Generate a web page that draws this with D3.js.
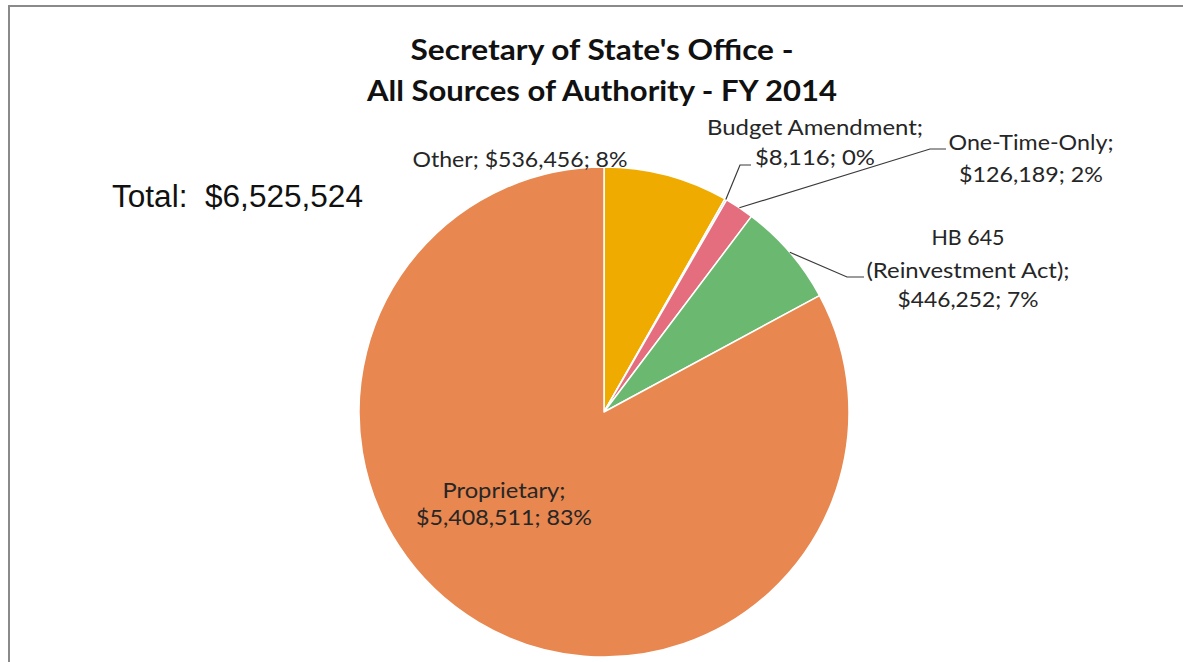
<!DOCTYPE html>
<html>
<head>
<meta charset="utf-8">
<script src="https://cdn.jsdelivr.net/npm/d3@7"></script>
<style>
  html, body { margin: 0; padding: 0; background: #fff; }
  svg { display: block; }
</style>
</head>
<body>
<svg id="chart" width="1183" height="662"></svg>
<script>
// ---- Data -------------------------------------------------------------
const categories = ["Other", "Budget Amendment", "One-Time-Only", "HB 645 (Reinvestment Act)", "Proprietary"];
const nameLines  = [["Other"], ["Budget Amendment"], ["One-Time-Only"], ["HB 645", "(Reinvestment Act)"], ["Proprietary"]];
const values     = [536456, 8116, 126189, 446252, 5408511];
const sliceColors = ["#F0AB00", "#A9C4E2", "#E56E7E", "#6BB870", "#E8874F"];
const titleLines = ["Secretary of State's Office -", "All Sources of Authority - FY 2014"];

// ---- Layout -----------------------------------------------------------
const W = 1183, H = 662;
const cx = 604, cy = 412, R = 245;
const labelFont = "Lato, 'Open Sans', sans-serif";

// label placement per slice (same order as categories)
const labelLayout = [
  { x: 520, y: [167], w: [215], oneLine: true, leader: null },
  { x: 815, y: [135, 165], w: [216, 120], leader: [[740, 165], [751, 165]] },
  { x: 1031, y: [150, 182], w: [165, 144], leader: [[930, 149], [946, 149]] },
  { x: 968, y: [245, 278, 307], w: [73, 203, 141], leader: [[847, 277], [864, 277]] },
  { x: 504, y: [498, 525], w: [123, 176], leader: null }
];

const svg = d3.select("#chart");

// frame edges
svg.append("line").attr("x1", 8).attr("x2", W).attr("y1", 6).attr("y2", 6)
  .attr("stroke", "#8a8a8a").attr("stroke-width", 2);
svg.append("line").attr("x1", 9).attr("x2", 9).attr("y1", 5).attr("y2", H)
  .attr("stroke", "#8a8a8a").attr("stroke-width", 2);

// title
const titleW = [383, 470], titleY = [60, 101];
svg.append("g").selectAll("text").data(titleLines).join("text")
  .attr("x", 602).attr("y", (d, i) => titleY[i])
  .attr("text-anchor", "middle")
  .attr("font-family", labelFont).attr("font-weight", "bold")
  .attr("font-size", 28).attr("fill", "#111")
  .attr("textLength", (d, i) => titleW[i]).attr("lengthAdjust", "spacingAndGlyphs")
  .text(d => d);

// total
const total = d3.sum(values);
const money = d3.format("$,");
svg.append("text")
  .attr("x", 112).attr("y", 207)
  .attr("font-family", "'Liberation Sans', Arial, sans-serif")
  .attr("font-size", 31).attr("fill", "#111")
  .attr("textLength", 251).attr("lengthAdjust", "spacingAndGlyphs")
  .attr("xml:space", "preserve")
  .text("Total:  " + money(total));

// pie
const pie = d3.pie().sort(null).value(d => d.value).startAngle(0).endAngle(2 * Math.PI);
const slices = pie(categories.map((c, i) => ({ name: c, value: values[i], i })));
const arc = d3.arc().innerRadius(0).outerRadius(R);
const edgeArc = d3.arc().innerRadius(R).outerRadius(R);

const g = svg.append("g").attr("transform", `translate(${cx},${cy})`);
g.selectAll("path").data(slices).join("path")
  .attr("d", arc)
  .attr("fill", d => sliceColors[d.data.i])
  .attr("stroke", "#fff").attr("stroke-width", 1.5).attr("stroke-linejoin", "round");

// leader lines from the slice's outer edge to its label
slices.forEach(d => {
  const L = labelLayout[d.data.i];
  if (!L.leader) return;
  const c = edgeArc.centroid(d);
  const pts = [[cx + c[0], cy + c[1]], ...L.leader];
  svg.append("path")
    .attr("d", d3.line()(pts))
    .attr("fill", "none").attr("stroke", "#3a3a3a").attr("stroke-width", 1.2);
});

// data labels
slices.forEach(d => {
  const i = d.data.i;
  const L = labelLayout[i];
  const pct = Math.round(d.data.value / total * 100) + "%";
  const names = nameLines[i].slice();
  names[names.length - 1] += ";";
  const valueLine = money(d.data.value) + "; " + pct;
  const lines = L.oneLine ? [names.join(" ") + " " + valueLine] : [...names, valueLine];
  svg.append("g").selectAll("text").data(lines).join("text")
    .attr("x", L.x).attr("y", (t, k) => L.y[k])
    .attr("text-anchor", "middle")
    .attr("font-family", labelFont).attr("font-size", 21).attr("fill", "#262626")
    .attr("textLength", (t, k) => L.w[k]).attr("lengthAdjust", "spacingAndGlyphs")
    .text(t => t);
});
</script>
</body>
</html>
